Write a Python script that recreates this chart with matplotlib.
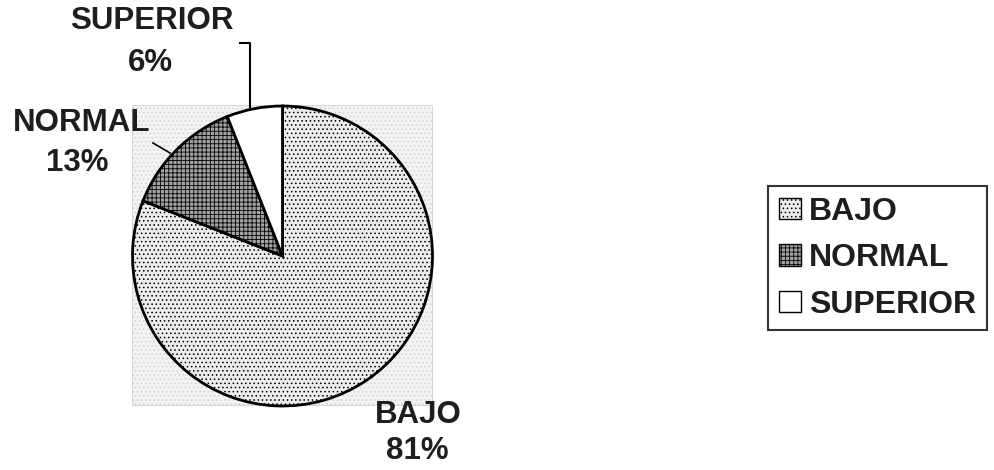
import matplotlib.pyplot as plt
from matplotlib.patches import Rectangle

plt.rcParams['font.family'] = ['Liberation Sans', 'DejaVu Sans']
plt.rcParams['hatch.color'] = '#9a9a9a'
plt.rcParams['hatch.linewidth'] = 0.6

categories = ["BAJO", "NORMAL", "SUPERIOR"]
values = [81, 13, 6]
colors = ["#ececec", "#a3a3a3", "#ffffff"]
hatches = ["....", "++++", ""]

W, H = 995, 470
fig = plt.figure(figsize=(W / 100, H / 100), dpi=100)
ax = fig.add_axes([0, 0, 1, 1])


def py(y):
    # pixel row (from top) to data y
    return H - y


# faint scanned backdrop behind the pie
ax.add_patch(Rectangle((132, py(405)), 300, 300, facecolor="#f3f3f3",
                       edgecolor="#d0d0d0", hatch="....", lw=0.6, zorder=0))

wedges, _ = ax.pie(values, colors=colors, startangle=90, counterclock=False,
                   center=(282.5, py(256)), radius=150,
                   wedgeprops=dict(edgecolor="black", linewidth=2))
for w, h in zip(wedges, hatches):
    w.set_hatch(h)
ax.set_xlim(0, W)
ax.set_ylim(0, H)
ax.set_aspect("equal")
ax.axis("off")

txt = dict(fontsize=22.5, fontweight="bold", color="#1e1e1e", ha="center", va="center")
ax.text(152, py(21), "SUPERIOR", **txt)
ax.text(150, py(63), "6%", **txt)
ax.text(82, py(123), "NORMAL", **txt)
ax.text(77, py(163), "13%", **txt)
ax.text(418, py(415), "BAJO", **txt)
ax.text(417, py(451), "81%", **txt)

# leader lines
ax.plot([240, 250, 250], [py(43), py(43), py(107)], color="black", lw=1.5)
ax.plot([153, 170], [py(143), py(153)], color="black", lw=1.2)

leg = ax.legend(wedges, categories, loc="upper left",
                bbox_to_anchor=(768 / W, 1 - 186 / H),
                bbox_transform=fig.transFigure,
                prop=dict(size=23, weight="bold"), frameon=True, fancybox=False,
                handlelength=0.7, handleheight=0.65, handletextpad=0.25,
                labelspacing=0.52, borderpad=0.33, borderaxespad=0)
leg.get_frame().set_edgecolor("black")
leg.get_frame().set_linewidth(1.5)
for t in leg.get_texts():
    t.set_color("#1e1e1e")
for h in leg.legend_handles:
    h.set_linewidth(1)

fig.savefig("out.png", dpi=100)
